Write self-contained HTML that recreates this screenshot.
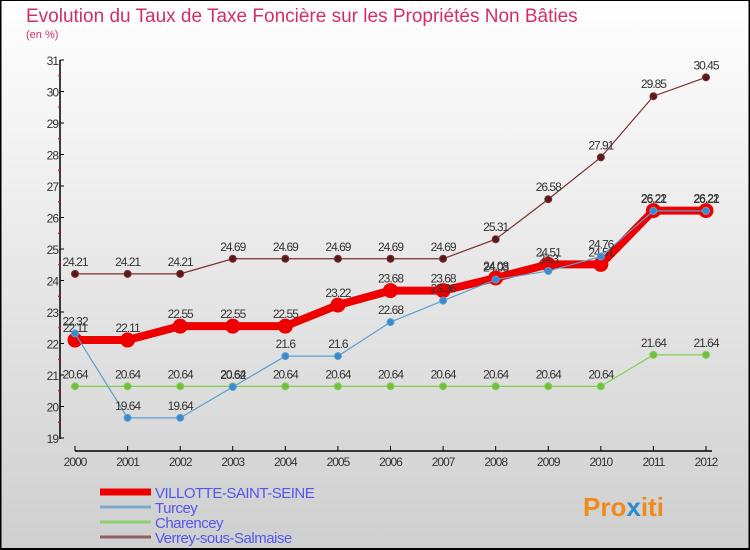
<!DOCTYPE html>
<html><head><meta charset="utf-8">
<style>
body{margin:0;}
#wrap{width:750px;height:550px;position:relative;overflow:hidden;background:linear-gradient(#ffffff,#cfcfcf);font-family:"Liberation Sans",sans-serif;}
</style></head>
<body>
<div id="wrap">
<svg id="chart" width="750" height="550" xmlns="http://www.w3.org/2000/svg">
<rect x="0.5" y="0" width="749" height="549" fill="none" stroke="#000" stroke-width="2"/>
<text x="26" y="22" font-size="19" fill="#d03060">Evolution du Taux de Taxe Foncière sur les Propriétés Non Bâties</text>
<text x="26" y="38" font-size="11" fill="#d03060">(en %)</text>
<g id="axes"></g>
<g id="series"></g>
<g id="legend"></g>
<text x="583" y="516" font-size="26" font-weight="bold" fill="#f08a1a">Pro<tspan fill="#2a8ad0">x</tspan>iti</text>
</svg>
</div>
<script>
const years=[2000,2001,2002,2003,2004,2005,2006,2007,2008,2009,2010,2011,2012];
const yTicks=[19,20,21,22,23,24,25,26,27,28,29,30,31];
const villotte=[22.11,22.11,22.55,22.55,22.55,23.22,23.68,23.68,24.08,24.51,24.51,26.22,26.22];
const turcey=[22.32,19.64,19.64,20.62,21.6,21.6,22.68,23.36,24.03,24.3,24.76,26.21,26.21];
const charencey=[20.64,20.64,20.64,20.64,20.64,20.64,20.64,20.64,20.64,20.64,20.64,21.64,21.64];
const verrey=[24.21,24.21,24.21,24.69,24.69,24.69,24.69,24.69,25.31,26.58,27.91,29.85,30.45];
const seriesNames=["VILLOTTE-SAINT-SEINE","Turcey","Charencey","Verrey-sous-Salmaise"];

const NS="http://www.w3.org/2000/svg";
const xS=i=>75+i*(706-75)/12;
const yS=v=>438-(v-19)*(438-60)/12;
function mk(tag,attrs,parent){const e=document.createElementNS(NS,tag);for(const k in attrs)e.setAttribute(k,attrs[k]);parent.appendChild(e);return e;}
const axes=document.getElementById('axes');
let l=mk('line',{x1:60,y1:60,x2:60,y2:439,stroke:'#000','stroke-width':1.5},axes);


yTicks.forEach(v=>{
 const t=mk('line',{x1:60,y1:yS(v),x2:64,y2:yS(v),stroke:'#000'},axes);
 
 
 if(v<31){const m=mk('line',{x1:58,y1:yS(v+0.5),x2:61,y2:yS(v+0.5),stroke:'#e00'},axes);
 
 }
 const tx=mk('text',{x:58,y:yS(v)+5,'font-size':12,'text-anchor':'end',fill:'#333','letter-spacing':'-1'},axes);
 tx.textContent=v;
 
 
});
let xa=mk('line',{x1:75,y1:451,x2:712,y2:451,stroke:'#000','stroke-width':1.5},axes);


years.forEach((y,i)=>{
 const t=mk('line',{x1:xS(i),y1:446,x2:xS(i),y2:451,stroke:'#000'},axes);
 
 
 const tx=mk('text',{x:xS(i),y:466,'font-size':12,'text-anchor':'middle',fill:'#333','letter-spacing':'-1'},axes);
 tx.textContent=y;
 
 
});
const sg=document.getElementById('series');
function draw(data,color,dot,w,r,name,labels){
 const g=mk('g',{},sg);
 
 
 const p=mk('polyline',{points:data.map((v,i)=>xS(i)+','+yS(v)).join(' '),fill:'none',stroke:color,'stroke-width':w},g);
 
 
 data.forEach((v,i)=>{
  const c=mk('circle',{cx:xS(i),cy:yS(v),r:r,fill:dot,stroke:color,'stroke-width':1},g);
  
  
  if(labels){const t=mk('text',{x:xS(i),y:yS(v)-8,'font-size':12,'text-anchor':'middle',fill:'#333','letter-spacing':'-1'},g);
  t.textContent=v;
  
  }
 });
}
draw(verrey,'#7a3030','#5a1818',1.2,3.5,'verrey',true);
draw(charencey,'#80d050','#70c040',1.2,3.5,'charencey',true);
draw(villotte,'#ee0000','#ee0000',8,7,'villotte',true);
draw(turcey,'#5aa0d0','#3a8ad0',1.2,3.5,'turcey',true);
const lg=document.getElementById('legend');
const lcol=['#ee0000','#7aaad0','#90d070','#906060'];
const lw=[7,3,3,3];
seriesNames.forEach((n,i)=>{
 const y=492+i*15;
 const ln=mk('line',{x1:100,y1:y,x2:151,y2:y,stroke:lcol[i],'stroke-width':lw[i]},lg);
 
 
 const t=mk('text',{x:155,y:y+6,'font-size':15,fill:'#5555ee','letter-spacing':'-0.5'},lg);
 t.textContent=n;
 
 
});
</script>
</body></html>
